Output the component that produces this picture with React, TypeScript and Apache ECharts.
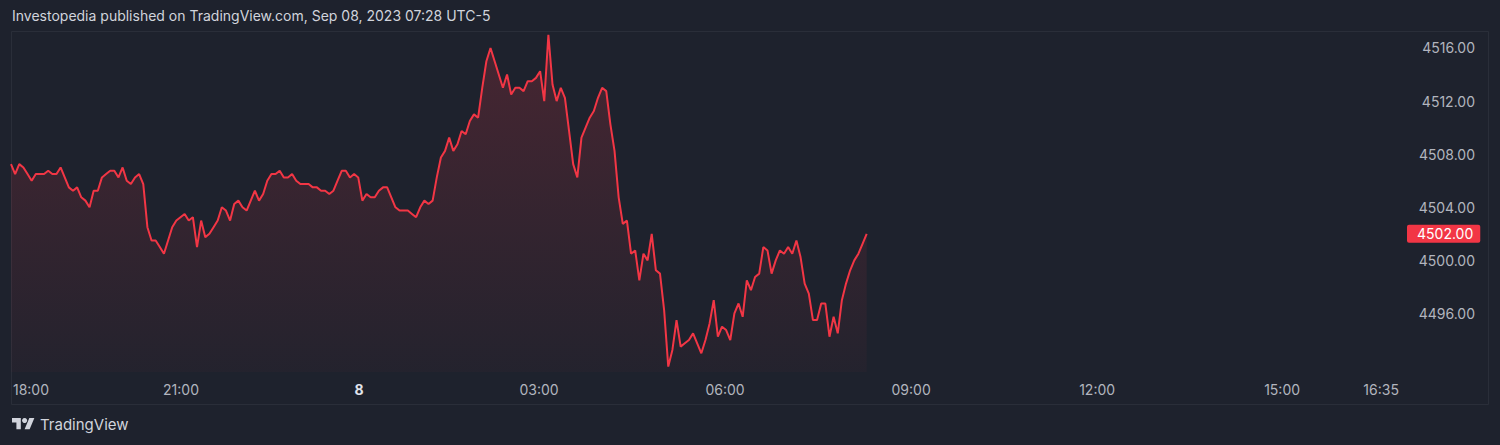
import React, { useEffect, useRef } from "react";
import * as echarts from "echarts";

// ---- data ----
const headerText = "Investopedia published on TradingView.com, Sep 08, 2023 07:28 UTC-5";
const brandText = "TradingView";
const barStep = 4; // bars between sampled points
const prices = [
  4507.25, 4506.5, 4507.25, 4507.0, 4506.5, 4506.0, 4506.5, 4506.5, 4506.5, 4506.75,
  4506.5, 4506.5, 4507.0, 4506.25, 4505.5, 4505.25, 4505.5, 4504.75, 4504.5, 4504.0,
  4505.25, 4505.25, 4506.25, 4506.5, 4506.75, 4506.75, 4506.25, 4507.0, 4506.0, 4505.75,
  4506.25, 4506.5, 4505.75, 4502.5, 4501.5, 4501.5, 4501.0, 4500.5, 4501.5, 4502.5,
  4503.0, 4503.25, 4503.5, 4503.0, 4503.25, 4501.0, 4503.0, 4501.75, 4502.0, 4502.5,
  4503.0, 4504.0, 4503.75, 4503.0, 4504.25, 4504.5, 4504.0, 4503.75, 4504.5, 4505.25,
  4504.5, 4505.0, 4506.0, 4506.5, 4506.5, 4506.75, 4506.25, 4506.25, 4506.5, 4506.0,
  4505.75, 4505.75, 4505.75, 4505.5, 4505.5, 4505.25, 4505.25, 4505.0, 4505.25, 4506.0,
  4506.75, 4506.75, 4506.25, 4506.5, 4506.25, 4504.5, 4505.0, 4504.75, 4504.75, 4505.25,
  4505.5, 4505.5, 4504.75, 4504.0, 4503.75, 4503.75, 4503.75, 4503.5, 4503.25, 4504.0,
  4504.5, 4504.25, 4504.5, 4506.25, 4507.75, 4508.25, 4509.25, 4508.25, 4508.75, 4509.75,
  4509.5, 4510.5, 4511.0, 4510.75, 4513.0, 4515.0, 4516.0, 4515.0, 4514.0, 4513.0,
  4514.0, 4512.5, 4513.0, 4513.0, 4512.75, 4513.5, 4513.5, 4513.75, 4514.25, 4512.0,
  4517.0, 4513.25, 4512.0, 4513.0, 4512.25, 4509.75, 4507.25, 4506.25, 4509.25, 4510.0,
  4510.75, 4511.25, 4512.25, 4513.0, 4512.75, 4510.25, 4508.25, 4504.75, 4502.75, 4503.0,
  4500.5, 4500.75, 4498.5, 4500.5, 4500.0, 4502.0, 4499.25, 4499.0, 4496.25, 4492.0,
  4493.25, 4495.5, 4493.5, 4493.75, 4494.0, 4494.5, 4493.75, 4493.0, 4494.0, 4495.25,
  4497.0, 4494.25, 4495.0, 4494.75, 4494.0, 4496.0, 4496.75, 4495.75, 4498.5, 4497.75,
  4498.75, 4499.0, 4501.0, 4500.75, 4499.0, 4500.0, 4500.75, 4500.5, 4501.0, 4500.5,
  4501.5, 4500.25, 4498.25, 4497.5, 4495.5, 4495.5, 4496.75, 4496.75, 4494.25, 4495.75,
  4494.5, 4497.0, 4498.25, 4499.25, 4500.0, 4500.5, 4501.25, 4502.0,
];
const timeTickBars = [0, 164.5, 336.8, 511, 691, 871, 1051, 1230, 1325.8];
const timeTickLabels = ["18:00", "21:00", "8", "03:00", "06:00", "09:00", "12:00", "15:00", "16:35"];
const dayLabels = ["8"];
const priceTicks = [4496, 4500, 4504, 4508, 4512, 4516];
const lastPrice = 4502.0;
const barsVisible = 1346;
const priceMin = 4491.59;
const priceMax = 4517.28;

const RED = "#f23645";
const BG = "#1e222d";
const TEXT = "#b2b5be";
const FONT = "Inter, Roboto, 'Noto Sans', sans-serif";

export default function App() {
  const ref = useRef<HTMLDivElement>(null);

  useEffect(() => {
    if (!ref.current) return;
    echarts.graphic.registerShape(
      "tvlogo",
      echarts.graphic.extendPath("M14 22H7V11H0V4h14v18zM28 22h-8l7.5-18h8L28 22z", {})
    );
    const chart = echarts.init(ref.current, null, { renderer: "svg" });
    const seriesData = prices.map((p, i) => [i * barStep, p]);
    const labelMap = new Map<number, string>();
    timeTickBars.forEach((b, i) => labelMap.set(b, timeTickLabels[i]));

    chart.setOption({
      animation: false,
      backgroundColor: BG,
      textStyle: { fontFamily: FONT },
      title: {
        text: headerText,
        left: 12,
        top: 8,
        padding: 0,
        textStyle: { color: "#d1d4dc", fontSize: 14, fontWeight: "normal", fontFamily: FONT },
      },
      grid: { left: 11, top: 31, right: 98, bottom: 73, containLabel: false },
      xAxis: {
        type: "value",
        min: 0,
        max: barsVisible,
        axisLine: { show: false },
        axisTick: { show: false },
        splitLine: { show: false },
        axisLabel: {
          customValues: timeTickBars,
          color: TEXT,
          fontSize: 14,
          fontFamily: FONT,
          margin: 17,
          verticalAlign: "middle",
          formatter: (v: number) => {
            const t = labelMap.get(v) ?? "";
            if (dayLabels.includes(t)) return "{d|" + t + "}";
            if (v === 0) return "{l|" + t + "}";
            return t;
          },
          rich: {
            d: { color: "#e0e3eb", fontWeight: "bold", fontSize: 14, fontFamily: FONT },
            l: { color: TEXT, fontSize: 14, fontFamily: FONT, padding: [0, 0, 0, 40] },
          },
        },
      },
      yAxis: {
        type: "value",
        position: "right",
        min: priceMin,
        max: priceMax,
        scale: true,
        axisLine: { show: false },
        axisTick: { show: false },
        splitLine: { show: false },
        axisLabel: {
          customValues: priceTicks,
          color: TEXT,
          fontSize: 14,
          fontFamily: FONT,
          align: "right",
          margin: 73,
          formatter: (v: number) => v.toFixed(2),
        },
      },
      series: [
        {
          type: "line",
          data: seriesData,
          showSymbol: false,
          symbol: "none",
          lineStyle: { color: RED, width: 2 },
          areaStyle: {
            color: new echarts.graphic.LinearGradient(0, 0, 0, 1, [
              { offset: 0, color: "rgba(242,54,69,0.28)" },
              { offset: 1, color: "rgba(242,54,69,0.04)" },
            ]),
          },
          markLine: {
            silent: true,
            symbol: ["none", "none"],
            lineStyle: { color: "rgba(0,0,0,0)", width: 1, type: "solid" },
            emphasis: { disabled: true },
            data: [{ yAxis: lastPrice }],
            label: {
              show: true,
              position: "end",
              distance: 5,
              formatter: () => lastPrice.toFixed(2),
              backgroundColor: RED,
              color: "#ffffff",
              fontSize: 14,
              fontFamily: FONT,
              padding: [2, 7, 2, 10],
              borderRadius: 2,
            },
          },
        },
      ],
      graphic: [
        {
          type: "rect",
          silent: true,
          shape: { x: 11.5, y: 31.5, width: 1477, height: 373 },
          style: { fill: "none", stroke: "#2a2e39", lineWidth: 1 },
        },
        {
          type: "tvlogo",
          x: 12,
          y: 415.5,
          scaleX: 0.63,
          scaleY: 0.63,
          style: { fill: "#d1d4dc" },
        },
        {
          type: "circle",
          shape: { cx: 12 + 20 * 0.63, cy: 415.5 + 8 * 0.63, r: 4 * 0.63 },
          style: { fill: "#d1d4dc" },
        },
        {
          type: "text",
          x: 40,
          y: 424,
          style: {
            text: brandText,
            fill: "#d1d4dc",
            fontSize: 15,
            fontFamily: FONT,
            verticalAlign: "middle",
          },
        },
      ],
    });
    return () => chart.dispose();
  }, []);

  return (
    <div
      ref={ref}
      style={{ position: "fixed", left: 0, top: 0, width: 1500, height: 445, background: BG }}
    />
  );
}
